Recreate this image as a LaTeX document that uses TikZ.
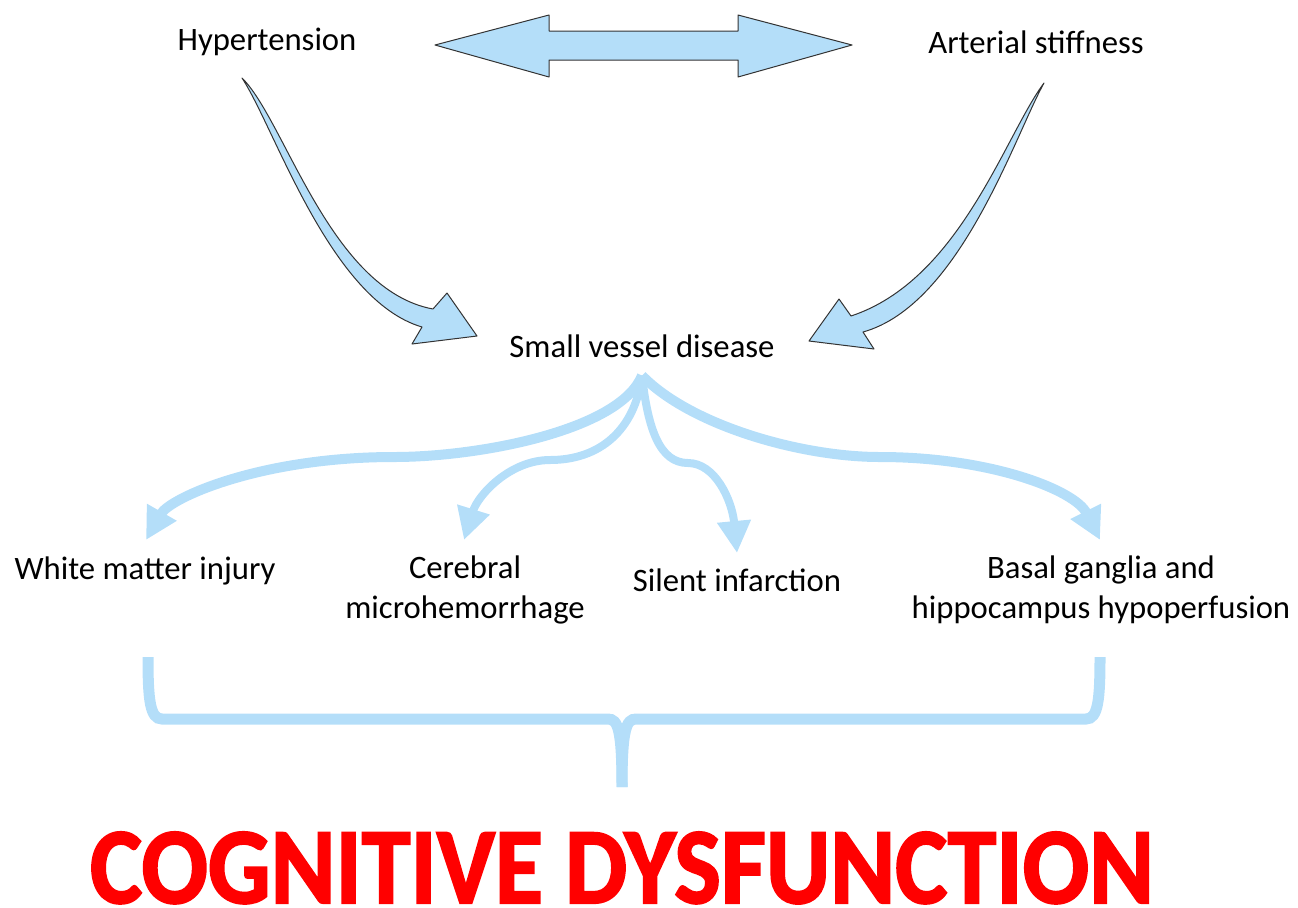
\documentclass[tikz,border=0pt]{standalone}
\usepackage{fontspec}
\setmainfont{Carlito}
\newfontfamily\titlefont{Carlito}[BoldFeatures={FakeBold=2}]
\usetikzlibrary{arrows.meta}

\begin{document}
\begin{tikzpicture}[
            x=0.2mm,y=-0.2mm,
            every node/.style={inner sep=0pt,font=\fontsize{18.6}{22.7}\selectfont},
            lbl/.style={anchor=base,align=center},
            fat/.style={fill=skyb,draw=black!80,line width=0.2mm,line join=round},
            branch/.style={draw=skyb,line width=2mm,-{Triangle[width=6.4mm,length=6.4mm]}},
            thin branch/.style={branch,line width=1.6mm}
        ]
            \colorlet{skyb}{rgb,255:red,180;green,222;blue,249}
            \useasboundingbox (0,0) rectangle (1298,907);

            % causes
            \node (hyp) [lbl] at (267,50)  {Hypertension};
            \node (art) [lbl] at (1036,53) {Arterial stiffness};
            \node (svd) [lbl] at (642,357) {Small vessel disease};

            % consequences (base = last line)
            \node (wmi) [lbl] at (145,579)  {White matter injury};
            \node (cmh) [lbl] at (465,618)  {Cerebral\\microhemorrhage};
            \node (sil) [lbl] at (737,591)  {Silent infarction};
            \node (bgh) [lbl] at (1101,618) {Basal ganglia and\\hippocampus hypoperfusion};

            \node (cog) [anchor=base,text=red,font=\titlefont\bfseries\fontsize{56}{60}\selectfont] at (622,903)
                {\scalebox{1}[1.1]{COGNITIVE DYSFUNCTION}};

            % double arrow between the causes
            \draw [fat] (435,45) -- (549,15) -- (549,31) -- (738,31) -- (738,15) -- (852,45)
                        -- (738,77) -- (738,60) -- (549,60) -- (549,77) -- cycle;

            % curved arrows into small vessel disease
            \draw [fat] (242,78) .. controls (275,128) and (330,300) .. (422,327)
                        -- (412,344) -- (477,336) -- (447,293) -- (433,309)
                        .. controls (330,290) and (285,120) .. cycle;
            \draw [fat] (1044,83) .. controls (1005,135) and (960,280) .. (851,316)
                        -- (839,299) -- (809,341) -- (874,349) -- (863,332)
                        .. controls (960,305) and (1015,135) .. cycle;

            % branches
            \coordinate (root) at ([yshift=-3.6mm]svd.south);
            \coordinate (wmiTip) at (146,540);
            \coordinate (cmhTip) at (464,540);
            \coordinate (silTip) at (737,553);
            \coordinate (bghTip) at (1100,540);
            \draw [branch]      (root) .. controls (620,430) and (480,457) .. (394,457)
                                .. controls (260,457) and (170,498) .. (wmiTip);
            \draw [thin branch] (root) .. controls (635,430) and (600,460) .. (550,460)
                                .. controls (510,460) and (478,495) .. (cmhTip);
            \draw [thin branch] (root) .. controls (648,430) and (660,463) .. (688,463)
                                .. controls (715,463) and (732,500) .. (silTip);
            \draw [branch]      (root) .. controls (690,425) and (800,457) .. (880,457)
                                .. controls (990,457) and (1075,490) .. (bghTip);

            % brace
            \draw [skyb,line width=2.2mm] (148,657) .. controls (148,700) and (150,719) .. (162,719)
                        -- (608,719) .. controls (618,719) and (622,730) .. (622,787);
            \draw [skyb,line width=2.2mm] (1100,657) .. controls (1100,700) and (1098,719) .. (1086,719)
                        -- (636,719) .. controls (626,719) and (622,730) .. (622,787);
        \end{tikzpicture}
\end{document}
